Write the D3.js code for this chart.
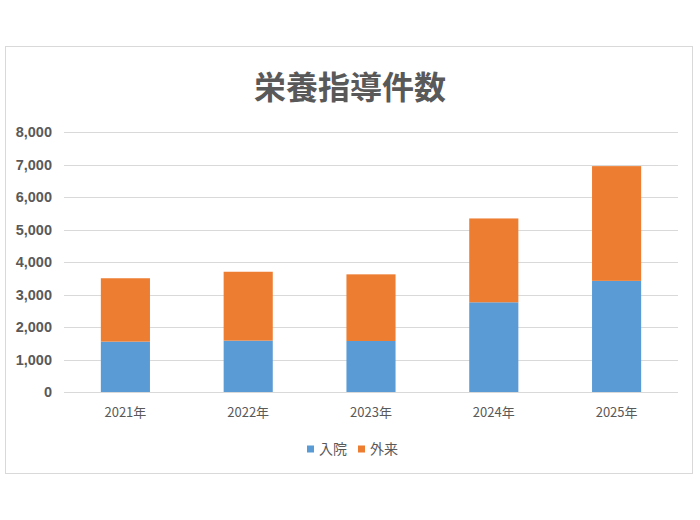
<!DOCTYPE html>
<html>
<head>
<meta charset="utf-8">
<script src="https://cdn.jsdelivr.net/npm/d3@7"></script>
<style>
  body { margin: 0; background: #fff; }
  text { font-family: "Noto Sans CJK JP", "Noto Sans", sans-serif; fill: #595959; }
</style>
</head>
<body>
<div id="chart"></div>
<script>
// chart data
const years = ["2021年", "2022年", "2023年", "2024年", "2025年"];
const inpatient = [1550, 1580, 1570, 2760, 3420];   // 入院
const outpatient = [1950, 2120, 2050, 2580, 3530];  // 外来
const seriesNames = ["入院", "外来"];
const seriesColors = ["#5B9BD5", "#ED7D31"];
const yTicks = [0, 1000, 2000, 3000, 4000, 5000, 6000, 7000, 8000];

const width = 700, height = 520;
const margin = {top: 132, right: 22, bottom: 128, left: 64};

const svg = d3.select("#chart").append("svg")
    .attr("width", width)
    .attr("height", height);

// chart frame
svg.append("rect")
    .attr("x", 5.5).attr("y", 46.5)
    .attr("width", 687).attr("height", 427)
    .attr("fill", "#fff")
    .attr("stroke", "#d9d9d9");

// title
svg.append("text")
    .attr("x", 350).attr("y", 99)
    .attr("text-anchor", "middle")
    .style("font-size", "32px")
    .style("font-weight", "bold")
    .text("栄養指導件数");

let x = d3.scaleBand()
    .domain(years)
    .range([margin.left, width - margin.right])
    .paddingInner(0.6)
    .paddingOuter(0.3);

let y = d3.scaleLinear()
    .domain([0, 8000])
    .range([height - margin.bottom, margin.top]);

// gridlines
svg.append("g")
    .selectAll("line").data(yTicks).enter()
    .append("line")
    .attr("x1", margin.left).attr("x2", width - margin.right)
    .attr("y1", d => Math.round(y(d)) + 0.5)
    .attr("y2", d => Math.round(y(d)) + 0.5)
    .attr("stroke", "#d9d9d9")
    .attr("stroke-width", 1);

// y axis labels
let yAxis = d3.axisLeft(y).tickValues(yTicks).tickSize(0).tickPadding(12)
    .tickFormat(d3.format(","));
let yg = svg.append("g")
    .attr("transform", "translate(" + margin.left + ",0)")
    .call(yAxis);
yg.select(".domain").remove();
yg.selectAll("text")
    .style("font-size", "14.5px")
    .style("font-weight", "bold")
    .style("fill", "#595959")
    .style("font-family", "'Liberation Sans', Arial, sans-serif");

// stacked bars
let table = years.map((yr, i) => ({year: yr, "入院": inpatient[i], "外来": outpatient[i]}));
let stacked = d3.stack().keys(seriesNames)(table);

svg.append("g")
    .selectAll("g").data(stacked).enter()
    .append("g")
    .attr("fill", (d, i) => seriesColors[i])
    .selectAll("rect").data(d => d).enter()
    .append("rect")
    .attr("x", d => x(d.data.year))
    .attr("y", d => y(d[1]))
    .attr("width", x.bandwidth())
    .attr("height", d => y(d[0]) - y(d[1]));

// x axis labels
let xAxis = d3.axisBottom(x).tickSize(0).tickPadding(16);
let xg = svg.append("g")
    .attr("transform", "translate(0," + (height - margin.bottom) + ")")
    .call(xAxis);
xg.select(".domain").remove();
xg.selectAll("text")
    .style("font-size", "13px")
    .style("fill", "#595959")
    .style("font-family", "'Noto Sans CJK JP', sans-serif");

// legend
let legend = svg.append("g").attr("transform", "translate(307,449)");
let legendX = [0, 51];
seriesNames.forEach((name, i) => {
    let item = legend.append("g").attr("transform", "translate(" + legendX[i] + ",0)");
    item.append("rect")
        .attr("x", 0).attr("y", -3.5)
        .attr("width", 7).attr("height", 7)
        .attr("fill", seriesColors[i]);
    item.append("text")
        .attr("x", 12).attr("y", 5)
        .style("font-size", "14px")
        .text(name);
});
</script>
</body>
</html>
